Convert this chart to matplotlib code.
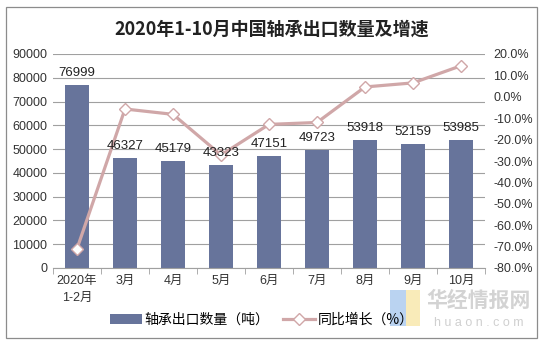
import matplotlib
matplotlib.use("Agg")
import matplotlib.pyplot as plt
from matplotlib.patches import Rectangle
import numpy as np

plt.rcParams['font.family'] = ['Liberation Sans', 'Noto Sans CJK SC', 'DejaVu Sans']

categories = ["2020年\n1-2月", "3月", "4月", "5月", "6月", "7月", "8月", "9月", "10月"]
export_qty = [76999, 46327, 45179, 43323, 47151, 49723, 53918, 52159, 53985]
yoy_growth = [-71.0, -5.7, -8.2, -27.2, -12.9, -12.0, 4.6, 6.5, 14.5]
left_ticks = list(range(0, 90001, 10000))
right_ticks = list(range(-80, 21, 10))

title = "2020年1-10月中国轴承出口数量及增速"
bar_label = "轴承出口数量（吨）"
line_label = "同比增长（%）"

bar_color = "#67749B"
line_color = "#D0A7A8"
grid_color = "#A0A0A0"
text_color = "#333333"

fig = plt.figure(figsize=(5.45, 3.44), dpi=100)
ax = fig.add_axes([53/545, 1-268/344, 432/545, 214/344])
ax2 = ax.twinx()

x = np.arange(len(categories))
bars = ax.bar(x, export_qty, width=0.5, color=bar_color, zorder=2, label=bar_label)
ax.set_xlim(-0.5, len(categories) - 0.5)
ax.set_ylim(0, 90000)
ax.set_yticks(left_ticks)
ax.set_yticklabels([str(v) for v in left_ticks], fontsize=9, color=text_color)
ax.yaxis.grid(True, color=grid_color, linewidth=0.8, zorder=0)
ax.set_axisbelow(True)
ax.tick_params(axis='y', length=0, pad=4)

ax.set_xticks(x)
ax.set_xticklabels(categories, fontsize=9, color=text_color, linespacing=1.5)
ax.set_xticks(np.arange(-0.5, len(categories), 1.0), minor=True)
ax.tick_params(axis='x', which='major', length=0, pad=5)
ax.tick_params(axis='x', which='minor', length=4, color=grid_color, direction='out')

for s in ['top', 'left', 'right']:
    ax.spines[s].set_visible(False)
    ax2.spines[s].set_visible(False)
ax.spines['bottom'].set_color(grid_color)
ax2.spines['bottom'].set_visible(False)

ax2.plot(x, yoy_growth, color=line_color, linewidth=2.3, marker='D', markersize=6,
         markerfacecolor='white', markeredgecolor=line_color, markeredgewidth=1.0,
         zorder=4, label=line_label)
ax2.set_ylim(-80, 20)
ax2.set_yticks(right_ticks)
ax2.set_yticklabels([f"{v:.1f}%" for v in right_ticks], fontsize=9, color=text_color)
ax2.tick_params(axis='y', length=0, pad=6)

# data labels drawn above the line
for xi, v in zip(x, export_qty):
    ax2.annotate(str(v), (xi, v), xycoords=ax.transData, xytext=(0, 4),
                 textcoords='offset points', ha='center', va='bottom',
                 fontsize=9.5, color="#222222", zorder=6)

fig.text(272/545, 1-29/344, title, ha='center', va='center', fontsize=13,
         fontweight='bold', family=['Noto Sans CJK SC'], color="#222222")

# watermark
fig.patches.append(Rectangle((390/545, 1-326/344), 16/545, 36/344, transform=fig.transFigure,
                             facecolor="#A9C8EE", edgecolor='none', alpha=0.8, zorder=0))
fig.patches.append(Rectangle((406/545, 1-326/344), 14/545, 36/344, transform=fig.transFigure,
                             facecolor="#F8E7A8", edgecolor='none', alpha=0.8, zorder=0))
fig.text(479/545, 1-300/344, "华经情报网", ha='center', va='center', fontsize=15,
         fontweight='bold', color="#C8C8C8", family=['Noto Sans CJK SC'], alpha=0.8)
fig.text(479/545, 1-323/344, "h u a o n . c o m", ha='center', va='center', fontsize=9,
         color="#D0D0D0")

handles = [bars, ax2.get_lines()[0]]
leg = fig.legend(handles, [bar_label, line_label], loc='center', bbox_to_anchor=(262/545, 1-320/344),
                 ncol=2, frameon=False, handlelength=2.3, columnspacing=1.0,
                 handletextpad=0.2, prop={'family': ['Noto Sans CJK SC'], 'size': 10})
leg.set_zorder(10)

# outer border
fig.patches.append(Rectangle((6/545, 1-338/344), 531/545, 331/344, transform=fig.transFigure,
                             facecolor='none', edgecolor="#8C8C8C", linewidth=0.9))

fig.savefig("out.png", dpi=100)
